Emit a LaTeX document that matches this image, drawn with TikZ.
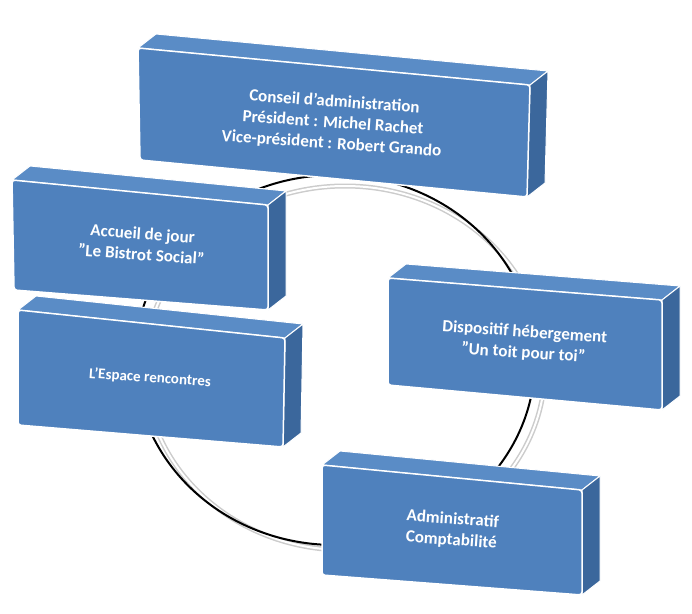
\documentclass[tikz,border=0pt]{standalone}
\usepackage{fontspec}
\setmainfont{Carlito}
\definecolor{front}{HTML}{4F81BD}
\definecolor{side}{HTML}{3B679C}
\definecolor{topc}{HTML}{5A8CC6}
\newcommand\myslab[4]{%
 \fill[topc,draw=white,line width=1pt] #1 -- #2 -- ($#2+(18,-14)$) -- ($#1+(18,-14)$) -- cycle;
 \fill[side,draw=white,line width=1pt] #2 -- #3 -- ($#3+(18,-14)$) -- ($#2+(18,-14)$) -- cycle;
 \fill[front,draw=white,line width=1.5pt,rounded corners=3pt] #1 -- #2 -- #3 -- #4 -- cycle;}
\newcommand\dq{\char34\relax}
\newcommand\sq{\char39\relax}
\usetikzlibrary{calc}
\tikzset{lbl/.style={text=white,font=\bfseries\fontsize{17}{21}\selectfont,align=center,rotate=-4}}
\begin{document}
\begin{tikzpicture}[x=1pt,y=-1pt]
\useasboundingbox (0,0) rectangle (692,613);
\draw[gray!40,line width=5pt] (345,368) ellipse [x radius=200, y radius=182];
\draw[white,line width=2pt] (345,368) ellipse [x radius=200, y radius=182];
\draw[black,line width=2pt] (335,360) ellipse [x radius=200, y radius=185];
\myslab{(138,48)}{(530,85)}{(527,197)}{(140,160)}
\myslab{(12,180)}{(268,205)}{(268,310)}{(14,290)}
\myslab{(18,310)}{(285,338)}{(283,447)}{(18,425)}
\myslab{(388,278)}{(662,300)}{(662,410)}{(388,385)}
\myslab{(322,465)}{(582,490)}{(582,595)}{(322,575)}
\node[lbl] (ca) at (333,123) {Conseil d\sq administration\\Président : Michel Rachet\\Vice-président : Robert Grando};
\node[lbl] (aj) at (142,244) {Accueil de jour\\\dq Le Bistrot Social\dq};
\node[lbl,font=\bfseries\fontsize{15}{18}\selectfont] (er) at (150,378) {L\sq Espace rencontres};
\node[lbl] (dh) at (524,343) {Dispositif hébergement\\\dq Un toit pour toi\dq};
\node[lbl] (ad) at (452,530) {Administratif\\Comptabilité};
\end{tikzpicture}
\end{document}
